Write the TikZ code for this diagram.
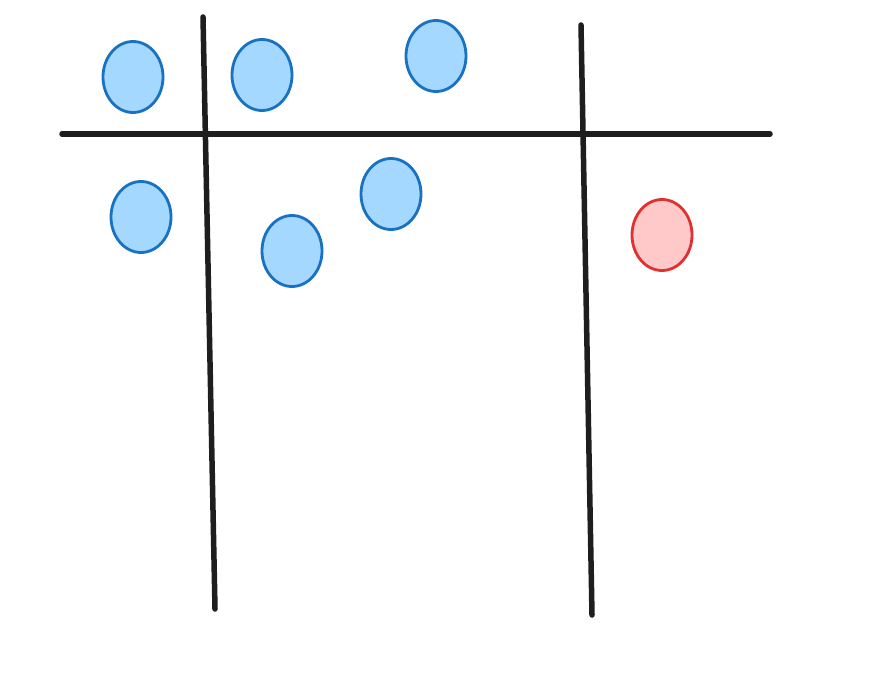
\documentclass[tikz,border=0pt]{standalone}
\usetikzlibrary{shapes.geometric}
\definecolor{bfill}{HTML}{A5D8FF}
\definecolor{bline}{HTML}{1971C2}
\definecolor{rfill}{HTML}{FFC9C9}
\definecolor{rline}{HTML}{E03131}
\definecolor{ink}{HTML}{1E1E1E}
\begin{document}
\begin{tikzpicture}[x=1pt,y=-1pt,
  dot/.style={ellipse,draw=bline,fill=bfill,line width=2.8pt,minimum width=60pt,minimum height=71pt,inner sep=0pt},
  reddot/.style={dot,draw=rline,fill=rfill},
  rule/.style={draw=ink,line width=5.5pt,line cap=round}]
\useasboundingbox (0,0) rectangle (880,695);
\coordinate (hl) at (62,134);
\coordinate (hr) at (770,134);
\coordinate (v1t) at (203,17);
\coordinate (v1b) at (215,609);
\coordinate (v2t) at (581,25);
\coordinate (v2b) at (592,615);
\draw[rule] (hl) -- (hr);
\draw[rule] (v1t) -- (v1b);
\draw[rule] (v2t) -- (v2b);
\node[dot] (a) at (133,77) {};
\node[dot] (b) at (262,75) {};
\node[dot] (c) at (436,56) {};
\node[dot] (d) at (141,217) {};
\node[dot] (e) at (292,251) {};
\node[dot] (f) at (391,194) {};
\node[reddot] (g) at (662,235) {};
\end{tikzpicture}
\end{document}
